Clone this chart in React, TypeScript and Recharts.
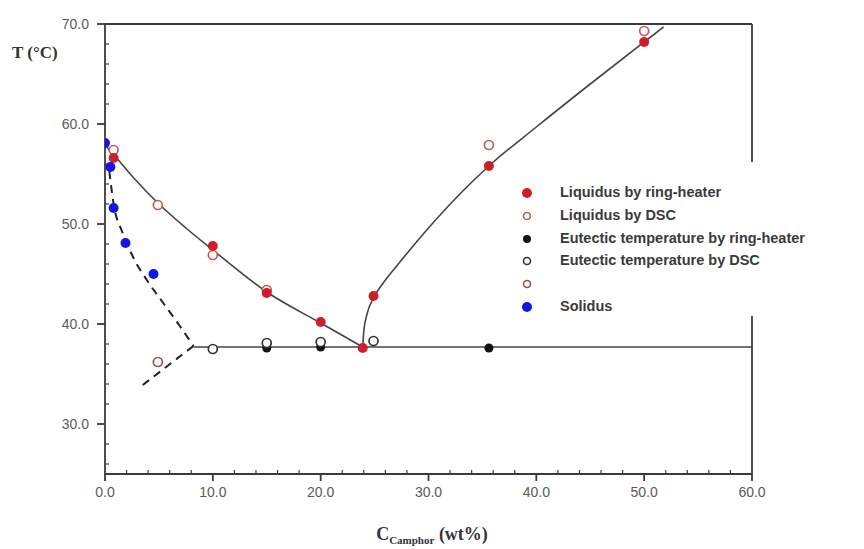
import React from 'react';
import { ComposedChart, XAxis, YAxis, Scatter, Line, ReferenceLine } from 'recharts';

// measured points, [wt% camphor, T in °C]
const liquidusRing = [[0.8, 56.6], [10, 47.8], [15, 43.1], [20, 40.2], [23.9, 37.6], [24.9, 42.8], [35.6, 55.8], [50, 68.2]];
const liquidusDsc = [[0.8, 57.4], [4.9, 51.9], [10, 46.9], [15, 43.4], [35.6, 57.9], [50, 69.3]];
const eutecticRing = [[15, 37.6], [20, 37.7], [35.6, 37.6]];
const eutecticDsc = [[10, 37.5], [15, 38.1], [20, 38.2], [24.9, 38.3]];
const unlabeledDsc = [[4.9, 36.2]];
const solidus = [[0, 58.1], [0.5, 55.7], [0.8, 51.6], [1.9, 48.1], [4.5, 45.0]];

// fitted curves
const liquidusLeftCurve = [[0, 57.9], [1, 56.7], [2.5, 54.8], [5, 52.0], [7.5, 49.6], [10, 47.4], [15, 43.2], [20, 40.1], [23.9, 37.7]];
const liquidusRightCurve = [[23.9, 37.7], [24.0, 39.3], [24.3, 41.0], [24.9, 42.6], [25.8, 44.1], [27.2, 46.0], [30, 49.6], [33, 53.1], [35.6, 55.8], [40, 59.7], [45, 64.0], [50, 68.2], [51.8, 69.7]];
const eutecticLine = [[8.2, 37.7], [60, 37.7]];
const solidusCurve = [[0.4, 55.3], [0.8, 52.0], [1.6, 49.2], [2.6, 46.7], [4, 44.2], [5.4, 42.1], [7, 39.7], [8.2, 37.8]];
const solidusTail = [[8.2, 37.8], [3.5, 33.9]];

const xTicks = [0, 10, 20, 30, 40, 50, 60];
const yTicks = [30, 40, 50, 60, 70];
const xMinor = [2, 4, 6, 8, 12, 14, 16, 18, 22, 24, 26, 28, 32, 34, 36, 38, 42, 44, 46, 48, 52, 54, 56, 58];
const yMinor = [26, 28, 32, 34, 36, 38, 42, 44, 46, 48, 52, 54, 56, 58, 62, 64, 66, 68];

const toPts = (arr: number[][]) => arr.map(([x, y]) => ({ x, y }));

const RED = '#cc1f2b';
const RED_OPEN = '#c45a5a';
const BROWN_OPEN = '#9c4f4f';
const BLACK = '#111111';
const BLUE = '#1414e6';
const AXIS = '#3a3a3a';
const TICK_FONT = { fontSize: 14, fill: '#5a5a5a', fontFamily: 'Liberation Sans, Arial, sans-serif' };

const filled = (color: string, r: number) => (p: any) => <circle cx={p.cx} cy={p.cy} r={r} fill={color} />;
const open = (color: string, r: number) => (p: any) => (
  <circle cx={p.cx} cy={p.cy} r={r} fill="#ffffff" stroke={color} strokeWidth={1.7} />
);

const legendItems = [
  { label: 'Liquidus by ring-heater', color: RED, hollow: false, r: 5 },
  { label: 'Liquidus by DSC', color: RED_OPEN, hollow: true, r: 3.5 },
  { label: 'Eutectic temperature by ring-heater', color: BLACK, hollow: false, r: 4 },
  { label: 'Eutectic temperature by DSC', color: '#333333', hollow: true, r: 3.5 },
  { label: '', color: BROWN_OPEN, hollow: true, r: 3.5 },
  { label: 'Solidus', color: BLUE, hollow: false, r: 5 },
];

export default function App() {
  return (
    <div style={{ position: 'absolute', left: 0, top: 0, width: 864, height: 549, background: '#fff' }}>
      <ComposedChart width={864} height={549} margin={{ top: 24, right: 112, bottom: 25, left: 0 }}>
        <XAxis type="number" dataKey="x" domain={[0, 60]} ticks={xTicks} allowDataOverflow
          tickFormatter={(v: number) => v.toFixed(1)} tick={TICK_FONT} tickSize={7} tickMargin={6} height={50}
          stroke={AXIS} strokeWidth={1.8} />
        <YAxis type="number" dataKey="y" domain={[25, 70]} ticks={yTicks} allowDataOverflow
          tickFormatter={(v: number) => v.toFixed(1)} tick={TICK_FONT} tickSize={8} tickMargin={8} width={105}
          stroke={AXIS} strokeWidth={1.8} />

        {/* frame top and right */}
        <ReferenceLine y={70} stroke={AXIS} strokeWidth={1.8} />
        <ReferenceLine x={60} stroke={AXIS} strokeWidth={1.8} />

        {/* minor ticks pointing into the plot */}
        {xMinor.map((v) => (
          <ReferenceLine key={`mx${v}`} segment={[{ x: v, y: 25 }, { x: v, y: 25.4 }]} stroke={AXIS} strokeWidth={1.2} ifOverflow="visible" />
        ))}
        {yMinor.map((v) => (
          <ReferenceLine key={`my${v}`} segment={[{ x: 0, y: v }, { x: 0.37, y: v }]} stroke={AXIS} strokeWidth={1.2} ifOverflow="visible" />
        ))}

        <Line data={toPts(liquidusLeftCurve)} dataKey="y" type="monotone"
          stroke="#444" strokeWidth={1.6} dot={false} isAnimationActive={false} />
        <Line data={toPts(liquidusRightCurve)} dataKey="y" type="monotone"
          stroke="#444" strokeWidth={1.6} dot={false} isAnimationActive={false} />
        <Line data={toPts(eutecticLine)} dataKey="y" type="linear"
          stroke="#444" strokeWidth={1.6} dot={false} isAnimationActive={false} />
        <Line data={toPts(solidusCurve)} dataKey="y" type="monotone"
          stroke="#222" strokeWidth={2} strokeDasharray="8 6" dot={false} isAnimationActive={false} />
        <Line data={toPts(solidusTail)} dataKey="y" type="linear"
          stroke="#222" strokeWidth={2} strokeDasharray="8 6" dot={false} isAnimationActive={false} />

        <Scatter name="Eutectic temperature by ring-heater" data={toPts(eutecticRing)}
          shape={filled(BLACK, 4.5)} isAnimationActive={false} />
        <Scatter name="Eutectic temperature by DSC" data={toPts(eutecticDsc)}
          shape={open('#333', 4.5)} isAnimationActive={false} />
        <Scatter name="Liquidus by DSC" data={toPts(liquidusDsc)}
          shape={open(RED_OPEN, 4.5)} isAnimationActive={false} />
        <Scatter name="Liquidus by ring-heater" data={toPts(liquidusRing)}
          shape={filled(RED, 5)} isAnimationActive={false} />
        <Scatter name="unlabeled" data={toPts(unlabeledDsc)}
          shape={open(BROWN_OPEN, 4.5)} isAnimationActive={false} />
        <Scatter name="Solidus" data={toPts(solidus)}
          shape={filled(BLUE, 5)} isAnimationActive={false} />
      </ComposedChart>

      {/* axis titles */}
      <div style={{ position: 'absolute', left: 12, top: 43, fontFamily: 'Liberation Serif, Times New Roman, serif',
        fontWeight: 'bold', fontSize: 17, color: '#333' }}>
        T (°C)
      </div>
      <div style={{ position: 'absolute', left: 0, width: 864, top: 524, textAlign: 'center',
        fontFamily: 'Liberation Serif, Times New Roman, serif', fontWeight: 'bold', fontSize: 18, color: '#333' }}>
        <span>C</span>
        <span style={{ fontSize: 11, position: 'relative', top: 4 }}>Camphor</span>
        <span> (wt%)</span>
      </div>

      {/* legend, white box covers the right frame */}
      <div style={{ position: 'absolute', left: 508, top: 162, width: 356, height: 154, background: '#fff' }}>
        {legendItems.map((it, i) => (
          <div key={i} style={{ position: 'absolute', left: 0, top: 20 + i * 22.8, height: 22, width: 356 }}>
            <svg width={40} height={22} style={{ position: 'absolute', left: 0, top: 0 }}>
              <circle cx={19} cy={11} r={it.r} fill={it.hollow ? '#fff' : it.color}
                stroke={it.hollow ? it.color : 'none'} strokeWidth={1.6} />
            </svg>
            <span style={{ position: 'absolute', left: 52, top: 2, fontFamily: 'Liberation Sans, Arial, sans-serif',
              fontWeight: 'bold', fontSize: 14.5, color: '#3a3a3a', whiteSpace: 'nowrap' }}>
              {it.label}
            </span>
          </div>
        ))}
      </div>
    </div>
  );
}
